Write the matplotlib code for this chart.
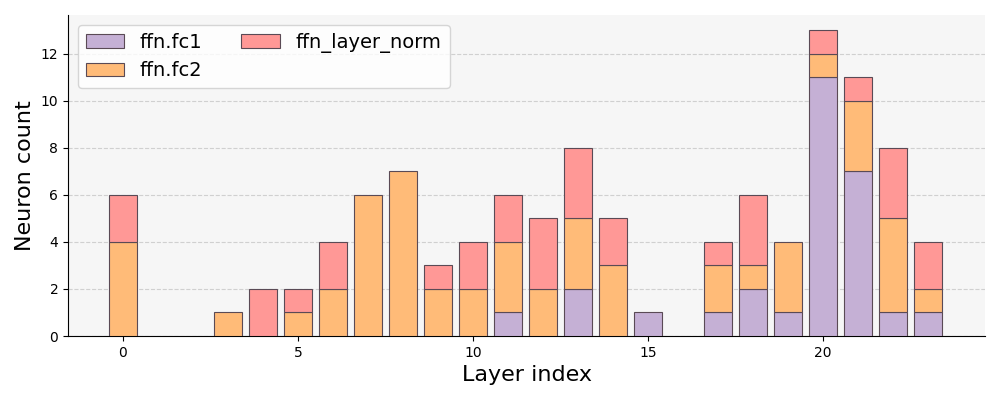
import matplotlib
matplotlib.use("Agg")
import matplotlib.pyplot as plt
import numpy as np

layers = list(range(24))
fc1 = [0, 0, 0, 0, 0, 0, 0, 0, 0, 0, 0, 1, 0, 2, 0, 1, 0, 1, 2, 1, 11, 7, 1, 1]
fc2 = [4, 0, 0, 1, 0, 1, 2, 6, 7, 2, 2, 3, 2, 3, 3, 0, 0, 2, 1, 3, 1, 3, 4, 1]
layer_norm = [2, 0, 0, 0, 2, 1, 2, 0, 0, 1, 2, 2, 3, 3, 2, 0, 0, 1, 3, 0, 1, 1, 3, 2]

series = [("ffn.fc1", fc1, "#c5b0d5"), ("ffn.fc2", fc2, "#ffbb78"), ("ffn_layer_norm", layer_norm, "#ff9896")]

fig, ax = plt.subplots(figsize=(10, 4), dpi=100)
ax.set_facecolor("#f6f6f6")

x = np.array(layers)
bottom = np.zeros(len(layers))
for name, vals, color in series:
    vals = np.array(vals, dtype=float)
    nz = vals > 0
    # skip empty segments so no stray edge lines show up
    ax.bar(x[nz], vals[nz], bottom=bottom[nz], color=color, edgecolor="#5a4a55",
           linewidth=0.8, width=0.8, label=name, zorder=3)
    bottom += vals

ax.set_xlabel("Layer index", fontsize=16)
ax.set_ylabel("Neuron count", fontsize=16)
ax.set_xlim(-1.57, 24.63)
ax.set_yticks(range(0, 13, 2))
ax.grid(axis="y", linestyle="--", color="#d0d0d0", linewidth=0.8, zorder=0)
ax.spines["top"].set_visible(False)
ax.spines["right"].set_visible(False)
ax.legend(ncol=2, fontsize=14, loc="upper left")

fig.subplots_adjust(left=0.068, right=0.985, top=0.962, bottom=0.16)
fig.savefig("out.png")
